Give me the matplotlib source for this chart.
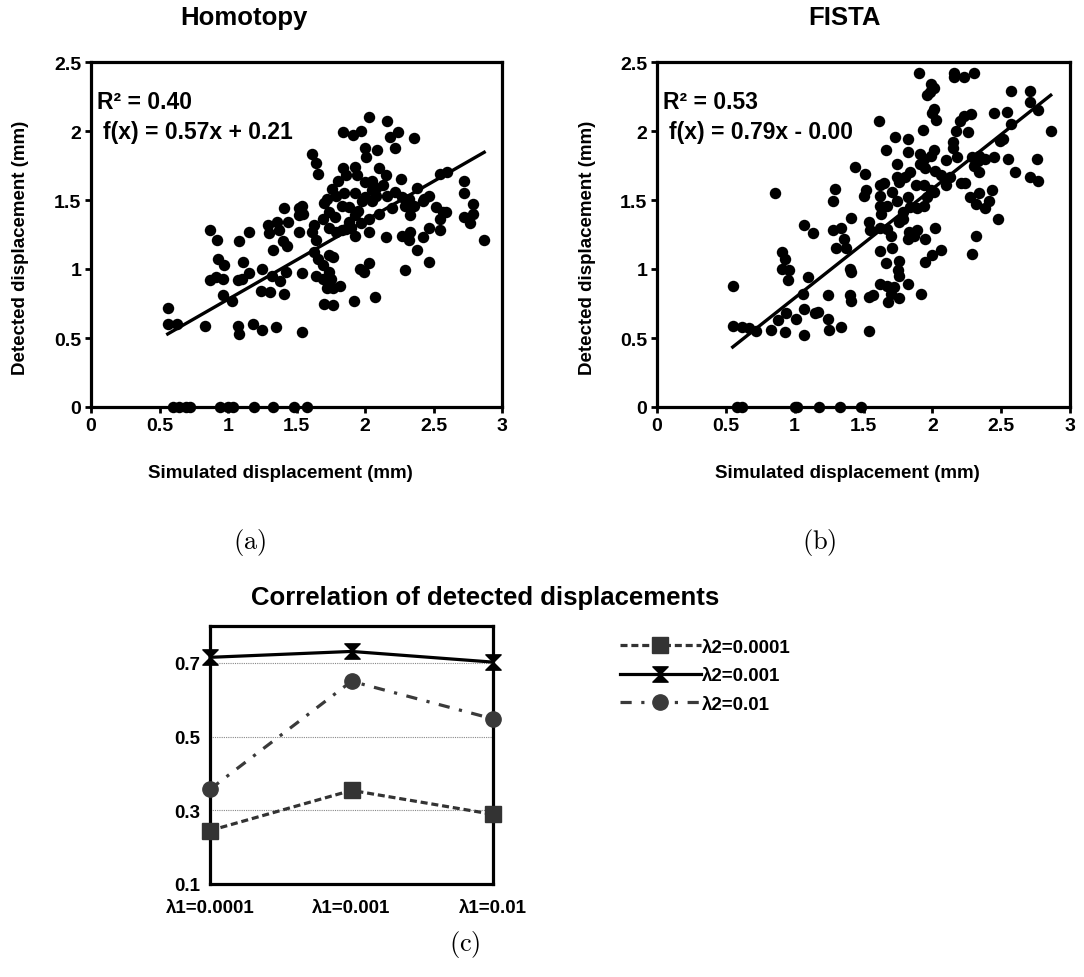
import matplotlib
matplotlib.use('Agg')
import matplotlib.pyplot as plt
import numpy as np
from matplotlib.path import Path

plt.rcParams['font.family'] = ['Liberation Sans', 'DejaVu Sans']
plt.rcParams['font.weight'] = 'bold'
plt.rcParams['mathtext.fontset'] = 'cm'

W, H = 1084, 978

# Homotopy: simulated vs detected displacement (mm)
homotopy_sim = [
    2.03, 2.16, 1.84, 1.91, 1.97, 2.18, 2.24, 2.36, 2.22, 2.00,
    2.09, 2.01, 1.61, 1.64, 1.66, 1.84, 1.93, 1.94, 2.10, 2.15,
    1.80, 1.76, 1.86, 2.26, 2.00, 2.05, 2.08, 2.13, 2.38, 2.47,
    2.55, 2.60, 2.72, 2.72, 2.79, 2.79, 2.72, 2.77, 2.87, 1.72,
    1.79, 1.83, 1.93, 1.98, 2.05, 2.08, 2.16, 2.22, 2.27, 2.32,
    2.36, 2.42, 2.43, 2.52, 2.55, 2.59, 2.57, 2.20, 2.29, 2.33,
    2.47, 2.42, 2.55, 2.15, 2.27, 2.33, 2.32, 2.38, 2.47, 2.29,
    2.03, 2.03, 1.93, 1.88, 1.86, 1.93, 1.74, 1.69, 1.63, 1.61,
    1.64, 1.74, 1.79, 1.83, 1.41, 1.52, 1.54, 1.55, 1.52, 1.29,
    1.30, 1.36, 1.37, 1.44, 1.52, 1.40, 1.43, 1.33, 1.15, 1.08,
    0.87, 0.92, 1.63, 1.66, 1.74, 1.77, 1.69, 1.96, 2.03, 1.99,
    1.54, 1.64, 1.69, 1.74, 1.75, 1.72, 1.77, 1.82, 1.70, 1.77,
    1.92, 2.07, 0.93, 0.97, 1.11, 1.15, 1.10, 1.07, 0.91, 0.87,
    0.96, 1.25, 1.32, 1.38, 1.42, 1.24, 1.31, 1.41, 0.96, 1.03,
    0.56, 0.56, 0.63, 0.83, 1.07, 1.08, 1.18, 1.25, 1.35, 1.54,
    1.88, 1.95, 2.00, 1.90, 2.10, 1.78, 1.85, 1.97, 2.05, 1.70,
    0.60, 0.64, 0.69, 0.72, 0.94, 1.00, 1.04, 1.19, 1.33, 1.48, 1.58,
]
homotopy_det = [
    2.10, 2.07, 1.99, 1.97, 2.00, 1.96, 1.99, 1.95, 1.88, 1.88,
    1.86, 1.81, 1.83, 1.77, 1.69, 1.73, 1.74, 1.68, 1.73, 1.68,
    1.64, 1.58, 1.68, 1.65, 1.63, 1.64, 1.59, 1.61, 1.59, 1.53,
    1.69, 1.70, 1.64, 1.55, 1.47, 1.40, 1.38, 1.33, 1.21, 1.51,
    1.53, 1.46, 1.55, 1.49, 1.49, 1.53, 1.53, 1.56, 1.52, 1.51,
    1.46, 1.49, 1.51, 1.45, 1.36, 1.41, 1.41, 1.44, 1.46, 1.39,
    1.30, 1.23, 1.28, 1.23, 1.24, 1.27, 1.21, 1.14, 1.05, 0.99,
    1.27, 1.36, 1.39, 1.34, 1.29, 1.24, 1.41, 1.36, 1.32, 1.27,
    1.21, 1.30, 1.27, 1.28, 1.44, 1.44, 1.46, 1.40, 1.39, 1.32,
    1.26, 1.34, 1.28, 1.34, 1.27, 1.20, 1.17, 1.14, 1.27, 1.20,
    1.28, 1.21, 1.12, 1.07, 1.10, 1.09, 1.03, 1.00, 1.04, 0.98,
    0.97, 0.95, 0.93, 0.98, 0.93, 0.86, 0.86, 0.88, 0.75, 0.74,
    0.77, 0.80, 1.07, 1.03, 1.05, 0.97, 0.93, 0.92, 0.94, 0.92,
    0.93, 1.00, 0.95, 0.91, 0.98, 0.84, 0.83, 0.82, 0.81, 0.77,
    0.72, 0.60, 0.60, 0.59, 0.59, 0.53, 0.60, 0.56, 0.58, 0.54,
    1.45, 1.42, 1.52, 1.30, 1.40, 1.38, 1.55, 1.33, 1.57, 1.48,
    0.00, 0.00, 0.00, 0.00, 0.00, 0.00, 0.00, 0.00, 0.00, 0.00, 0.00,
]
homotopy_fit = (0.57, 0.21)
homotopy_r2 = 0.40

# FISTA: simulated vs detected displacement (mm)
fista_sim = [
    1.90, 2.16, 2.23, 2.30, 2.16, 1.99, 2.01, 1.96, 1.98, 2.01,
    2.00, 2.03, 1.61, 1.93, 2.23, 2.28, 2.20, 2.17, 2.26, 2.45,
    2.54, 2.57, 2.71, 2.71, 2.77, 2.57, 2.86, 2.15, 2.15, 2.18,
    2.01, 1.99, 1.94, 1.91, 1.73, 1.82, 1.82, 1.66, 1.74, 1.84,
    1.80, 1.74, 1.76, 1.65, 1.44, 1.51, 1.91, 1.95, 2.02, 2.06,
    2.10, 2.13, 2.21, 2.24, 2.10, 2.29, 2.34, 2.38, 2.45, 2.49,
    2.51, 2.55, 2.60, 2.76, 2.71, 2.77, 2.30, 2.34, 2.33, 1.88,
    1.94, 1.99, 2.01, 1.96, 1.62, 1.62, 1.62, 1.63, 1.67, 1.71,
    1.74, 1.82, 1.79, 1.84, 1.89, 1.94, 0.86, 1.29, 1.28, 1.50,
    1.52, 2.27, 2.34, 2.43, 2.32, 2.38, 2.41, 2.48, 1.41, 1.54,
    1.55, 1.62, 1.67, 1.70, 1.76, 1.79, 1.83, 1.89, 1.95, 2.02,
    1.82, 1.87, 1.07, 1.13, 1.28, 1.34, 1.36, 1.30, 1.37, 0.91,
    0.93, 0.91, 0.96, 0.95, 1.62, 1.71, 2.32, 2.29, 1.95, 2.00,
    2.06, 1.66, 1.76, 1.75, 1.76, 1.82, 1.40, 1.41, 1.10, 1.06,
    1.24, 1.40, 1.41, 1.54, 1.57, 1.62, 1.67, 1.72, 1.70, 1.76,
    1.68, 1.92, 0.55, 0.55, 0.62, 0.67, 0.72, 0.83, 0.88, 0.93,
    0.94, 1.01, 1.07, 1.07, 1.15, 1.17, 1.24, 1.25, 1.34, 1.54,
    0.58, 0.62, 1.00, 1.02, 1.18, 1.33, 1.48,
]
fista_det = [
    2.42, 2.42, 2.39, 2.42, 2.39, 2.34, 2.31, 2.26, 2.28, 2.16,
    2.13, 2.08, 2.07, 2.01, 2.11, 2.12, 2.07, 2.00, 1.99, 2.13,
    2.14, 2.29, 2.29, 2.21, 2.15, 2.05, 2.00, 1.92, 1.88, 1.81,
    1.86, 1.82, 1.80, 1.83, 1.96, 1.94, 1.85, 1.86, 1.76, 1.70,
    1.67, 1.67, 1.63, 1.62, 1.74, 1.69, 1.76, 1.73, 1.71, 1.68,
    1.61, 1.67, 1.62, 1.62, 1.79, 1.81, 1.82, 1.80, 1.81, 1.93,
    1.94, 1.80, 1.70, 1.80, 1.67, 1.64, 1.75, 1.70, 1.78, 1.61,
    1.61, 1.57, 1.56, 1.52, 1.61, 1.53, 1.46, 1.40, 1.46, 1.56,
    1.49, 1.52, 1.41, 1.45, 1.44, 1.46, 1.55, 1.58, 1.49, 1.53,
    1.57, 1.52, 1.55, 1.57, 1.47, 1.44, 1.49, 1.36, 1.37, 1.34,
    1.28, 1.30, 1.29, 1.24, 1.34, 1.36, 1.27, 1.28, 1.22, 1.30,
    1.22, 1.24, 1.32, 1.26, 1.28, 1.30, 1.22, 1.15, 1.15, 1.12,
    1.07, 1.00, 0.99, 0.92, 1.13, 1.15, 1.24, 1.11, 1.05, 1.10,
    1.14, 1.04, 1.06, 0.99, 0.95, 0.89, 1.00, 0.98, 0.94, 0.82,
    0.81, 0.81, 0.77, 0.80, 0.81, 0.89, 0.88, 0.87, 0.82, 0.79,
    0.76, 0.82, 0.88, 0.59, 0.58, 0.57, 0.55, 0.56, 0.63, 0.54,
    0.68, 0.64, 0.71, 0.52, 0.68, 0.69, 0.64, 0.56, 0.58, 0.55,
    0.00, 0.00, 0.00, 0.00, 0.00, 0.00, 0.00,
]
fista_fit = (0.79, -0.0)
fista_r2 = 0.53

# correlation chart
lambda1_labels = ['λ1=0.0001', 'λ1=0.001', 'λ1=0.01']
corr_l2_0001 = [0.245, 0.354, 0.289]
corr_l2_001 = [0.715, 0.731, 0.702]
corr_l2_01 = [0.357, 0.650, 0.548]


def fx(px):
    return px / W


def fy(py):
    return 1 - py / H


fig = plt.figure(figsize=(W / 100, H / 100), dpi=100)


def scatter_panel(left, right, sim, det, fit, r2, title, title_x, ylab_x, xlab_x, sub, sub_x):
    ax = fig.add_axes([fx(left), fy(408), (right - left) / W, (408 - 63) / H])
    ax.scatter(sim, det, s=68, c='black', linewidths=0, zorder=3, clip_on=False)
    xs = np.array([min(sim), max(sim)])
    ax.plot(xs, fit[0] * xs + fit[1], color='black', lw=2.4, zorder=4)
    ax.set_xlim(0, 3)
    ax.set_ylim(0, 2.5)
    ax.set_xticks([0, 0.5, 1, 1.5, 2, 2.5, 3])
    ax.set_xticklabels(['0', '0.5', '1', '1.5', '2', '2.5', '3'])
    ax.set_yticks([0, 0.5, 1, 1.5, 2, 2.5])
    ax.set_yticklabels(['0', '0.5', '1', '1.5', '2', '2.5'])
    for s in ax.spines.values():
        s.set_linewidth(2.3)
    ax.tick_params(direction='out', length=4, width=2, labelsize=14, pad=3)
    sign = '-' if np.signbit(fit[1]) else '+'
    ax.text(0.014, 0.885, 'R² = {0:.2f}'.format(r2), transform=ax.transAxes,
            fontsize=16.5, ha='left', va='center')
    ax.text(0.028, 0.80, 'f(x) = {0:.2f}x {1} {2:.2f}'.format(fit[0], sign, abs(fit[1])),
            transform=ax.transAxes, fontsize=16.5, ha='left', va='center')
    fig.text(fx(title_x), fy(18), title, fontsize=18.5, ha='center', va='center')
    fig.text(fx(ylab_x), fy(248), 'Detected displacement (mm)', fontsize=13.5,
             rotation=90, ha='center', va='center')
    fig.text(fx(xlab_x), fy(474), 'Simulated displacement (mm)', fontsize=13.5,
             ha='center', va='center')
    fig.text(fx(sub_x), fy(542), r'$\mathrm{' + sub + '}$', fontsize=19,
             ha='center', va='center')
    return ax


scatter_panel(91, 502, homotopy_sim, homotopy_det, homotopy_fit, homotopy_r2,
              'Homotopy', 244, 21, 280, '(a)', 250)
scatter_panel(657, 1070, fista_sim, fista_det, fista_fit, fista_r2,
              'FISTA', 844, 588, 847, '(b)', 819)

# bottom correlation chart
ax3 = fig.add_axes([fx(210), fy(885), (493 - 210) / W, (885 - 627) / H])
hourglass = Path([(-1, 1), (1, 1), (-1, -1), (1, -1), (-1, 1)],
                 [Path.MOVETO, Path.LINETO, Path.LINETO, Path.LINETO, Path.CLOSEPOLY])
xpos = np.arange(len(lambda1_labels))
ax3.plot(xpos, corr_l2_0001, color='#333333', lw=2.3, ls=(0, (2.2, 1.2)),
         marker='s', ms=11, label='λ2=0.0001', clip_on=False, zorder=4)
ax3.plot(xpos, corr_l2_001, color='black', lw=2.3, ls='-',
         marker=hourglass, ms=11, label='λ2=0.001', clip_on=False, zorder=5)
ax3.plot(xpos, corr_l2_01, color='#3a3a3a', lw=2.3, ls=(0, (3.5, 3, 1, 3)),
         marker='o', ms=11, label='λ2=0.01', clip_on=False, zorder=4)
ax3.set_xlim(0, 2)
ax3.set_ylim(0.1, 0.8)
ax3.set_yticks([0.1, 0.3, 0.5, 0.7])
ax3.set_yticklabels(['0.1', '0.3', '0.5', '0.7'])
ax3.set_xticks(xpos)
ax3.set_xticklabels(lambda1_labels)
ax3.tick_params(axis='y', length=0, labelsize=13.5, pad=7)
ax3.tick_params(axis='x', length=0, labelsize=13.5, pad=11)
ax3.grid(axis='y', color='#888888', lw=0.8, ls=(0, (1, 1)))
ax3.set_axisbelow(True)
for s in ax3.spines.values():
    s.set_linewidth(2.3)
fig.text(fx(485), fy(598), 'Correlation of detected displacements', fontsize=18.5,
         ha='center', va='center')
ax3.legend(loc='upper left', bbox_to_anchor=(fx(603), fy(623)),
           bbox_transform=fig.transFigure, frameon=False, handlelength=4.3,
           handletextpad=0.1, labelspacing=0.6, prop={'size': 13.5, 'weight': 'bold'})
fig.text(fx(465), fy(945), r'$\mathrm{(c)}$', fontsize=19, ha='center', va='center')

fig.savefig('out.png', dpi=100, facecolor='white')
